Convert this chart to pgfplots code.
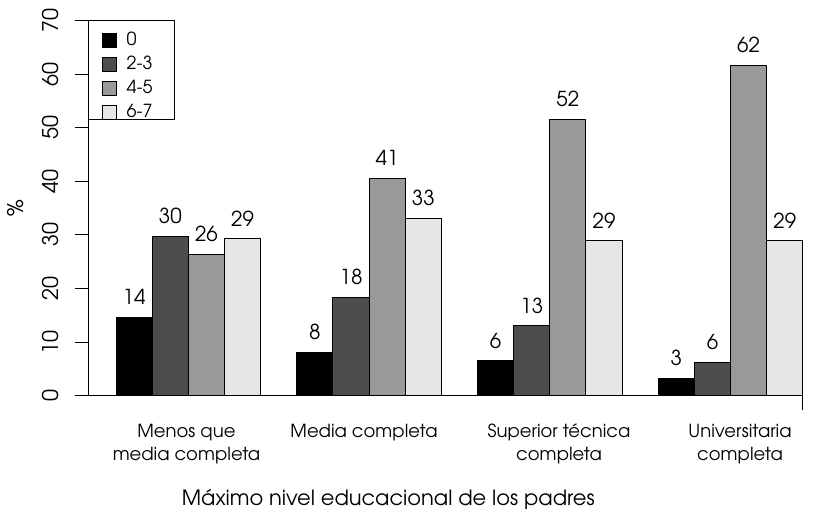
\documentclass[border=0pt]{standalone}
\usepackage{fontspec}
\setmainfont{TeX Gyre Adventor}
\usepackage{pgfplots}
\pgfplotsset{compat=1.18}
\definecolor{gA}{HTML}{4D4D4D}
\definecolor{gB}{HTML}{999999}
\definecolor{gC}{HTML}{E6E6E6}
\begin{document}
\begin{tikzpicture}
\begin{axis}[
  scale only axis, width=362.2pt, height=187.5pt,
  xmin=0.24, xmax=20.28, ymin=0, ymax=70,
  axis lines*=left,
  x axis line style={draw=none},
  y axis line style={line width=0.5pt},
  ytick={0,10,...,70},
  tick align=outside, major tick length=7pt,
  tick style={black, line width=0.5pt},
  /pgf/number format/assume math mode=true,
  yticklabel style={xshift=-7.5pt, rotate=90, anchor=south, inner sep=0pt, font=\fontsize{10.8}{12}\selectfont},
  xtick={2.95,7.86,13.255,18.26},
  xticklabels={Menos que\\media completa, Media completa, Superior técnica\\completa, Universitaria\\completa},
  xticklabel style={align=center, anchor=north, inner sep=0pt, yshift=-7pt, font=\fontsize{9}{11.3}\selectfont},
  x tick style={draw=none},
  clip=false,
  xlabel={Máximo nivel educacional de los padres},
  xlabel style={at={(axis description cs:0.4137,-0.2941)}, anchor=base, inner sep=0pt, font=\fontsize{10.5}{13}\selectfont},
  ylabel={\%},
  ylabel style={at={(axis description cs:-0.1002,0.5)}, anchor=center, inner sep=0pt, font=\fontsize{10.8}{13}\selectfont},
  nodes near coords,
  point meta=explicit symbolic,
  every node near coord/.append style={font=\fontsize{10.3}{12}\selectfont, anchor=south, inner sep=0pt, yshift=6pt, black},
  legend style={at={(0,1)}, anchor=north west, draw=none, fill=none,
    inner xsep=6.5pt, inner ysep=5.5pt, row sep=3.8pt, column sep=4.6pt,
    font=\fontsize{9}{10}\selectfont, nodes={inner sep=0pt}},
  legend cell align=left,
  legend image code/.code={\draw[#1, line width=0.5pt] (0pt,-3.4pt) rectangle (7.2pt,3.4pt);},
]
\addplot[ybar, bar width=1, bar shift=0pt, fill=black, draw=black, line width=0.5pt]
  coordinates {(1.5,14.6)[14] (6.5,8.14)[8] (11.5,6.5)[6] (16.5,3.3)[3]};
\addplot[ybar, bar width=1, bar shift=0pt, fill=gA, draw=black, line width=0.5pt]
  coordinates {(2.5,29.8)[30] (7.5,18.3)[18] (12.5,13.05)[13] (17.5,6.15)[6]};
\addplot[ybar, bar width=1, bar shift=0pt, fill=gB, draw=black, line width=0.5pt]
  coordinates {(3.5,26.35)[26] (8.5,40.6)[41] (13.5,51.6)[52] (18.5,61.7)[62]};
\addplot[ybar, bar width=1, bar shift=0pt, fill=gC, draw=black, line width=0.5pt]
  coordinates {(4.5,29.3)[29] (9.5,33.06)[33] (14.5,28.9)[29] (19.5,28.9)[29]};
\legend{0, 2-3, 4-5, 6-7}
\draw[line width=0.5pt] (axis cs:-0.136,0) -- (axis cs:20,0) -- ++(0pt,-7pt);
\draw[line width=0.5pt] (axis cs:0.24,70) rectangle (axis cs:2.611,51.47);
\coordinate (bbSW) at (axis cs:-2.21,-22.08);
\coordinate (bbNE) at (axis cs:20.28,73.86);
\end{axis}
\pgfresetboundingbox
\path[use as bounding box] (bbSW) rectangle (bbNE);
\end{tikzpicture}
\end{document}
